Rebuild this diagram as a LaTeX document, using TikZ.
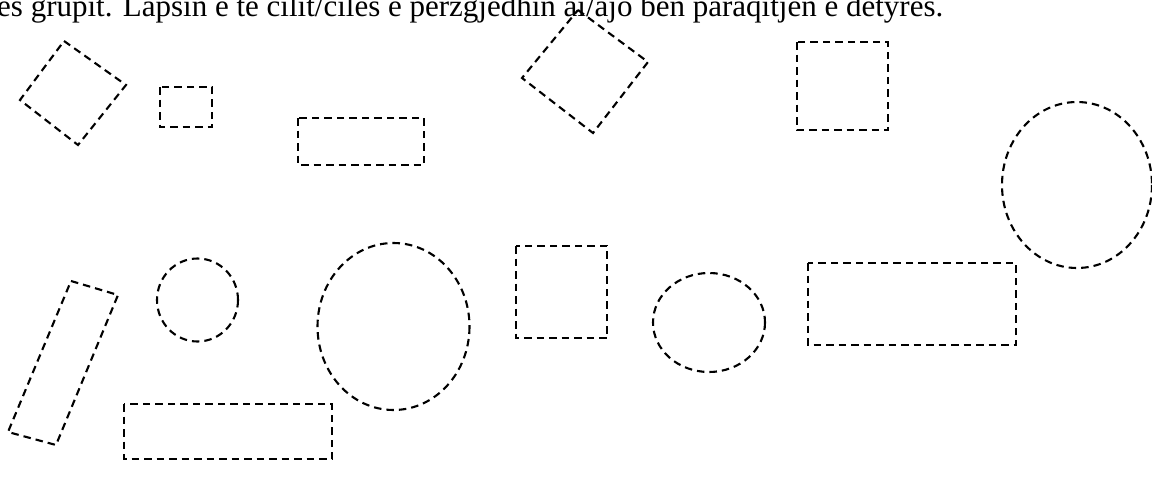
\documentclass[tikz,border=0pt]{standalone}
\usepackage{fontspec}
\setmainfont{Liberation Serif}
\begin{document}
\begin{tikzpicture}[x=1pt,y=-1pt,
  cut/.style={draw=black,line width=2.1pt,dash pattern=on 7.5pt off 5pt,line join=miter},
  caption/.style={anchor=base west,inner sep=0pt,font=\fontsize{31}{37}\selectfont}]
\useasboundingbox (0,0) rectangle (1152,490);
\begin{scope}
\clip (0,0) rectangle (1152,490);
\node[caption] (txt) at (-3,16) {es grupit. Lapsin e të cilit/cilës e përzgjedhin ai/ajo bën paraqitjen e detyrës.};
\end{scope}
% top row
\draw[cut] (64,41) -- (126,85) -- (78,145) -- (20,100) -- cycle;
\draw[cut] (160,87) rectangle (212,127);
\draw[cut] (298,118) rectangle (424,165);
\draw[cut] (578,10) -- (648,62) -- (593,133) -- (522,78) -- cycle;
\draw[cut] (797,42) rectangle (888,130);
\draw[cut] (1077,185) ellipse [x radius=75, y radius=83];
% lower rows
\draw[cut] (71,281) -- (118,295) -- (56,445) -- (8,432) -- cycle;
\draw[cut] (197.5,300) ellipse [x radius=40.5, y radius=41.5];
\draw[cut] (393.5,326.5) ellipse [x radius=76, y radius=83.5];
\draw[cut] (516,246) rectangle (607,338);
\draw[cut] (709,322.5) ellipse [x radius=56, y radius=49.5];
\draw[cut] (808,263) rectangle (1016,345);
\draw[cut] (124,404) rectangle (332,459);
\end{tikzpicture}
\end{document}
